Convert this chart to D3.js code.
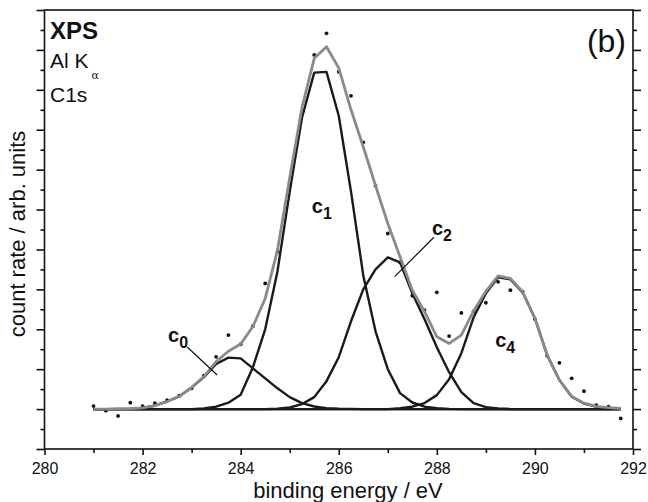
<!DOCTYPE html>
<html>
<head>
<meta charset="utf-8">
<script src="https://cdn.jsdelivr.net/npm/d3@7"></script>
<style>
  body { margin: 0; background: #fff; }
  svg text { font-family: "Liberation Sans", Arial, sans-serif; fill: #111; }
</style>
</head>
<body>
<div id="wrapper"></div>
<script>
// DATA (0.25 eV steps)
const energy = [281, 281.25, 281.5, 281.75, 282, 282.25, 282.5, 282.75, 283, 283.25, 283.5, 283.75,
  284, 284.25, 284.5, 284.75, 285, 285.25, 285.5, 285.75, 286, 286.25, 286.5, 286.75,
  287, 287.25, 287.5, 287.75, 288, 288.25, 288.5, 288.75, 289, 289.25, 289.5, 289.75,
  290, 290.25, 290.5, 290.75, 291, 291.25, 291.5, 291.75]

const measured = [0.15, -0.08, -0.34, 0.32, 0.15, 0.30, 0.45, 0.67, 1.04, 1.67, 2.62, 3.71,
  3.25, 4.16, 6.30, 7.88, 11.2, 14.8, 17.75, 18.83, 16.9, 15.7, 13.37, 11.19,
  8.8, 7.35, 5.68, 4.96, 5.85, 3.66, 4.82, 4.90, 5.33, 6.38, 5.96, 5.88,
  4.51, 2.67, 2.32, 1.54, 0.90, 0.20, 0.12, -0.47]

const c0Fit = [0, 0, 0.01, 0.02, 0.06, 0.17, 0.38, 0.64, 1.08, 1.6, 2.26, 2.58,
  2.54, 2.04, 1.54, 1.04, 0.6, 0.3, 0.13, 0.05, 0.02, 0.01, 0, 0,
  0, 0, 0, 0, 0, 0, 0, 0, 0, 0, 0, 0,
  0, 0, 0, 0, 0, 0, 0, 0]

const c1Fit = [0, 0, 0, 0, 0, 0, 0, 0, 0, 0.03, 0.12, 0.32,
  0.72, 2.1, 4.0, 6.9, 10.9, 14.6, 16.86, 16.9, 14.7, 10.9, 6.7, 3.9,
  2.0, 0.8, 0.33, 0.12, 0.04, 0.01, 0, 0, 0, 0, 0, 0,
  0, 0, 0, 0, 0, 0, 0, 0]

const c2Fit = [0, 0, 0, 0, 0, 0, 0, 0, 0, 0, 0, 0,
  0, 0, 0, 0.02, 0.08, 0.25, 0.6, 1.4, 2.6, 4.4, 6.0, 7.0,
  7.6, 7.35, 5.8, 4.5, 3.1, 1.85, 0.85, 0.3, 0.1, 0.03, 0, 0,
  0, 0, 0, 0, 0, 0, 0, 0]

const c4Fit = [0, 0, 0, 0, 0, 0, 0, 0, 0, 0, 0, 0,
  0, 0, 0, 0, 0, 0, 0, 0, 0, 0, 0, 0,
  0, 0.04, 0.12, 0.3, 0.7, 1.5, 2.8, 4.6, 5.8, 6.6, 6.5, 5.85,
  4.55, 2.7, 1.45, 0.62, 0.28, 0.12, 0.05, 0.02]

const envelope = [0, 0, 0.01, 0.02, 0.06, 0.17, 0.38, 0.64, 1.08, 1.63, 2.38, 2.9,
  3.26, 4.14, 5.54, 7.96, 11.6, 15.1, 17.58, 18.16, 17.1, 15.0, 13.15, 11.2,
  9.3, 7.63, 5.96, 4.88, 3.62, 3.29, 3.71, 4.92, 5.9, 6.67, 6.55, 5.88,
  4.55, 2.71, 1.45, 0.64, 0.3, 0.14, 0.07, 0.03]

const xTickLabels = [280, 282, 284, 286, 288, 290, 292]

// DIMENSIONS
const width = 648
const height = 502
const frame = { left: 44.5, right: 633, top: 10, bottom: 449 }

const svg = d3.select("#wrapper")
  .append("svg")
  .attr("width", width)
  .attr("height", height)

// SCALES
const xScale = d3.scaleLinear().domain([280, 292]).range([frame.left, frame.right])
const yScale = d3.scaleLinear().domain([-2, 20]).range([frame.bottom, frame.top])

// AXES - major / minor drawn as separate axes so ticks get two lengths
const yMajor = d3.range(-2, 21, 2)
const yMinor = d3.range(-1, 20, 2)
const xMinor = d3.range(281, 292, 2)

const tidy = g => {
  g.select(".domain").remove()
  g.selectAll(".tick line").attr("stroke", "#111").attr("stroke-width", 1.6)
}

svg.append("g").attr("transform", `translate(${frame.left},0)`)
  .call(d3.axisLeft(yScale).tickValues(yMajor).tickSize(8).tickFormat(""))
  .call(tidy)
svg.append("g").attr("transform", `translate(${frame.left},0)`)
  .call(d3.axisLeft(yScale).tickValues(yMinor).tickSize(4).tickFormat(""))
  .call(tidy)
svg.append("g").attr("transform", `translate(${frame.right},0)`)
  .call(d3.axisRight(yScale).tickValues(yMajor).tickSize(8).tickFormat(""))
  .call(tidy)
svg.append("g").attr("transform", `translate(${frame.right},0)`)
  .call(d3.axisRight(yScale).tickValues(yMinor).tickSize(4).tickFormat(""))
  .call(tidy)

const xAxis = svg.append("g").attr("transform", `translate(0,${frame.bottom})`)
  .call(d3.axisBottom(xScale).tickValues(xTickLabels).tickSize(6).tickPadding(8))
  .call(tidy)
xAxis.selectAll(".tick text")
  .attr("font-size", 16)
  .attr("font-family", "Liberation Sans, Arial, sans-serif")
  .attr("fill", "#111")
svg.append("g").attr("transform", `translate(0,${frame.bottom})`)
  .call(d3.axisBottom(xScale).tickValues(xMinor).tickSize(4).tickFormat(""))
  .call(tidy)

// FRAME
svg.append("rect")
  .attr("x", frame.left)
  .attr("y", frame.top)
  .attr("width", frame.right - frame.left)
  .attr("height", frame.bottom - frame.top)
  .attr("fill", "none")
  .attr("stroke", "#111")
  .attr("stroke-width", 1.6)

// MEASURED POINTS (under the lines)
svg.append("g")
  .selectAll("circle")
  .data(measured)
  .join("circle")
  .attr("cx", (d, i) => xScale(energy[i]))
  .attr("cy", d => yScale(d))
  .attr("r", 1.9)
  .attr("fill", "#111")

// FIT COMPONENTS
const lineGen = d3.line()
  .x((d, i) => xScale(energy[i]))
  .y(d => yScale(d))

const components = [c0Fit, c1Fit, c2Fit, c4Fit]
svg.append("g")
  .selectAll("path")
  .data(components)
  .join("path")
  .attr("d", d => lineGen(d))
  .attr("fill", "none")
  .attr("stroke", "#1a1a1a")
  .attr("stroke-width", 2.4)
  .attr("stroke-linejoin", "round")

// baseline
svg.append("path")
  .attr("d", lineGen(energy.map(() => 0)))
  .attr("fill", "none")
  .attr("stroke", "#1a1a1a")
  .attr("stroke-width", 2.4)

// envelope
svg.append("path")
  .attr("d", lineGen(envelope))
  .attr("fill", "none")
  .attr("stroke", "#8a8a8a")
  .attr("stroke-width", 2.8)
  .attr("stroke-linejoin", "round")

// AXIS TITLES
svg.append("text")
  .attr("x", 348)
  .attr("y", 498)
  .attr("text-anchor", "middle")
  .attr("font-size", 22)
  .text("binding energy / eV")

svg.append("text")
  .attr("transform", `translate(25,234) rotate(-90)`)
  .attr("text-anchor", "middle")
  .attr("font-size", 22)
  .text("count rate / arb. units")

// INSET TEXT
svg.append("text").attr("x", 50).attr("y", 39)
  .attr("font-size", 24).attr("font-weight", "bold").text("XPS")
const alK = svg.append("text").attr("x", 50).attr("y", 68).attr("font-size", 21)
alK.append("tspan").text("Al K")
alK.append("tspan").attr("dx", 3).attr("dy", 11).attr("font-size", 11)
  .attr("font-family", "DejaVu Serif, serif").text("α")
svg.append("text").attr("x", 50).attr("y", 101.5)
  .attr("font-size", 21).text("C1s")
svg.append("text").attr("x", 626).attr("y", 52)
  .attr("text-anchor", "end").attr("font-size", 32).text("(b)")

// COMPONENT LABELS
const compLabel = (e, v, digit) => {
  const t = svg.append("text")
    .attr("x", xScale(e)).attr("y", yScale(v))
    .attr("font-size", 20).attr("font-weight", "bold")
  t.append("tspan").text("c")
  t.append("tspan").attr("dy", 6).attr("font-size", 16).text(digit)
}
compLabel(282.52, 3.38, "0")
compLabel(285.45, 9.84, "1")
compLabel(287.9, 8.73, "2")
compLabel(289.19, 3.1, "4")

// leader lines
const leader = (e1, v1, e2, v2) => svg.append("line")
  .attr("x1", xScale(e1)).attr("y1", yScale(v1))
  .attr("x2", xScale(e2)).attr("y2", yScale(v2))
  .attr("stroke", "#111").attr("stroke-width", 1.2)
leader(282.91, 3.11, 283.52, 1.71)
leader(287.94, 8.61, 287.14, 6.64)
</script>
</body>
</html>
